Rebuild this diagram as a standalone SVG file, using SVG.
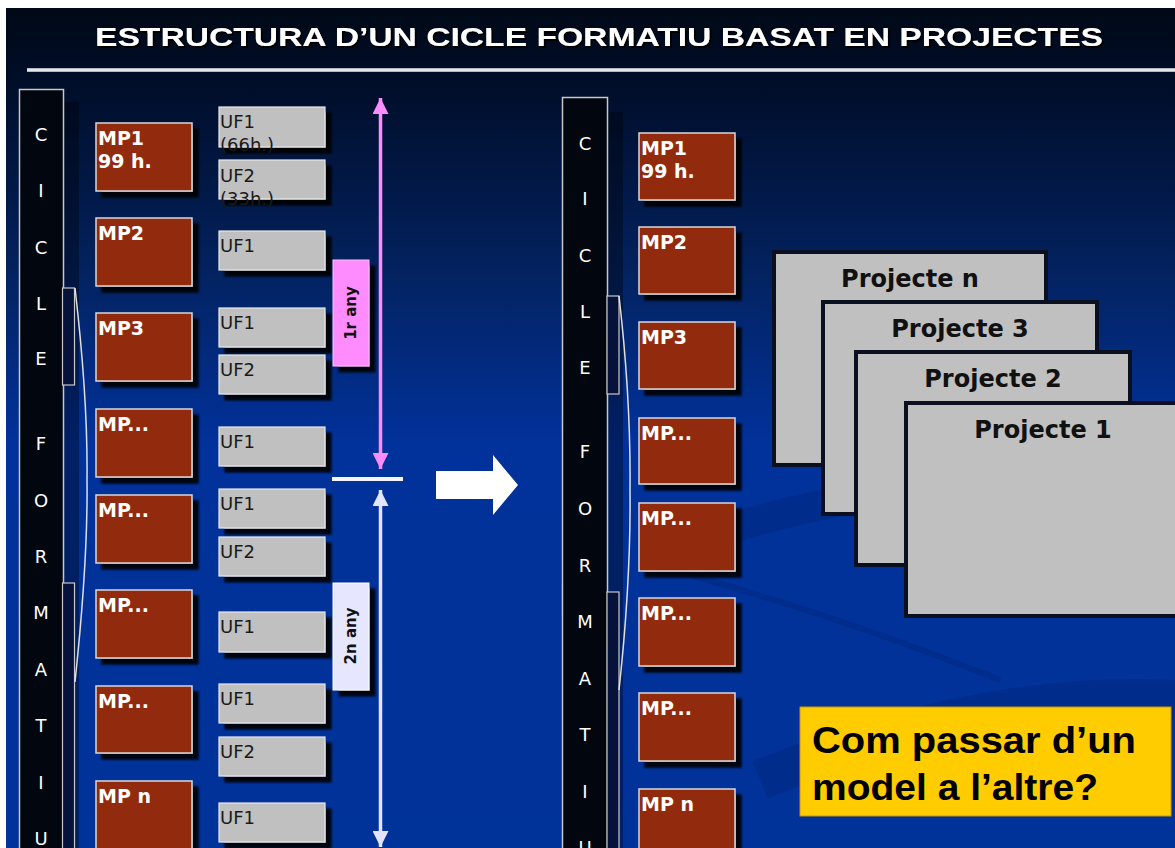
<svg xmlns="http://www.w3.org/2000/svg" width="1175" height="848" viewBox="0 0 1175 848">
<defs>
<linearGradient id="bg" x1="0" y1="0" x2="0" y2="1">
<stop offset="0" stop-color="#000814"/>
<stop offset="0.12" stop-color="#000f2e"/>
<stop offset="0.32" stop-color="#03225f"/>
<stop offset="0.52" stop-color="#01319a"/>
<stop offset="1" stop-color="#003399"/>
</linearGradient>
<linearGradient id="rule" x1="0" y1="0" x2="0" y2="1">
<stop offset="0" stop-color="#9aa0b0"/>
<stop offset="0.5" stop-color="#ffffff"/>
<stop offset="1" stop-color="#9aa0b0"/>
</linearGradient>
<filter id="sh" x="-10%" y="-10%" width="130%" height="130%">
<feDropShadow dx="6" dy="6" stdDeviation="0.8" flood-color="#000" flood-opacity="0.9"/>
</filter>
<filter id="tsh" x="-5%" y="-20%" width="110%" height="150%">
<feDropShadow dx="2" dy="2" stdDeviation="0.6" flood-color="#000" flood-opacity="1"/>
</filter>
<marker id="ahP" markerUnits="userSpaceOnUse" markerWidth="16" markerHeight="16" refX="16" refY="8" orient="auto-start-reverse">
<path d="M0,0 L16,8 L0,16 z" fill="#ff8cff"/>
</marker>
<marker id="ahL" markerUnits="userSpaceOnUse" markerWidth="16" markerHeight="16" refX="16" refY="8" orient="auto-start-reverse">
<path d="M0,0 L16,8 L0,16 z" fill="#e4e4ff"/>
</marker>
<style>
.bar{fill:#02060f;stroke:#c8c8c8;stroke-width:1.5}
.barsh{fill:#000;opacity:0.35}
.brace{fill:#06123a;stroke:#c8c8c8;stroke-width:1.2}
.bline{fill:none;stroke:#e0e0e0;stroke-width:1.5}
.let{font-family:"DejaVu Sans",sans-serif;font-size:18px;fill:#ffffff;text-anchor:middle}
.mp{fill:#922b11;stroke:#d8d8d8;stroke-width:1.5}
.mpt{font-family:"DejaVu Sans",sans-serif;font-weight:bold;font-size:19px;fill:#ffffff}
.uf{fill:#c0c0c0;stroke:#e8e8e8;stroke-width:1.2}
.uft{font-family:"DejaVu Sans",sans-serif;font-size:18px;fill:#1a1a1a}
.yr{font-family:"DejaVu Sans",sans-serif;font-weight:bold;font-size:15px;fill:#111;text-anchor:middle}
.pj{fill:#c0c0c0;stroke:#0b1020;stroke-width:4}
.pjt{font-family:"DejaVu Sans",sans-serif;font-weight:bold;font-size:24px;fill:#111;text-anchor:middle}
.q{font-family:"Liberation Sans",Arial,sans-serif;font-weight:bold;font-size:37px;fill:#000}
.sw{fill:none;stroke:#001650;stroke-opacity:0.18}
</style>
</defs>

<rect x="0" y="0" width="1175" height="848" fill="url(#bg)"/>
<path class="sw" d="M700,540 Q850,480 1175,470" stroke-width="30"/>
<path class="sw" d="M690,575 Q850,620 1000,680" stroke-width="6"/>
<path class="sw" d="M760,780 Q980,690 1175,700" stroke-width="40"/>
<rect x="0" y="0" width="1175" height="8" fill="#ffffff"/>
<rect x="0" y="0" width="6" height="848" fill="#ffffff"/>

<g id="title">
<text x="599" y="46" font-family="'Liberation Sans',Arial,sans-serif" font-weight="bold" font-size="26" fill="#ffffff" text-anchor="middle" textLength="1008" lengthAdjust="spacingAndGlyphs" filter="url(#tsh)">ESTRUCTURA D’UN CICLE FORMATIU BASAT EN PROJECTES</text>
<rect x="27" y="68" width="1148" height="4" fill="url(#rule)"/>
</g>

<!-- LEFT COLUMN -->
<g id="cicle-left">
<rect class="barsh" x="64" y="102" width="15" height="760"/>
<rect class="bar" x="19.5" y="89.5" width="44" height="770"/>
<rect class="brace" x="62.5" y="288" width="12" height="97"/>
<rect class="brace" x="62.5" y="583" width="12" height="280"/>
<path class="bline" d="M75,288 Q88,400 87,480 Q88,560 75,682"/>
<text class="let" x="41" y="141">C</text>
<text class="let" x="41" y="197">I</text>
<text class="let" x="41" y="254">C</text>
<text class="let" x="41" y="310">L</text>
<text class="let" x="41" y="365">E</text>
<text class="let" x="41" y="450">F</text>
<text class="let" x="41" y="507">O</text>
<text class="let" x="41" y="563">R</text>
<text class="let" x="41" y="619">M</text>
<text class="let" x="41" y="676">A</text>
<text class="let" x="41" y="732">T</text>
<text class="let" x="41" y="789">I</text>
<text class="let" x="41" y="845">U</text>
</g>

<g id="mp-left-1"><rect class="mp" x="96" y="123" width="96" height="68" filter="url(#sh)"/><text class="mpt" x="98" y="145">MP1</text><text class="mpt" x="98" y="168">99 h.</text></g>
<g id="mp-left-2"><rect class="mp" x="96" y="218" width="96" height="68" filter="url(#sh)"/><text class="mpt" x="98" y="240">MP2</text></g>
<g id="mp-left-3"><rect class="mp" x="96" y="313" width="96" height="68" filter="url(#sh)"/><text class="mpt" x="98" y="335">MP3</text></g>
<g id="mp-left-4"><rect class="mp" x="96" y="409" width="96" height="68" filter="url(#sh)"/><text class="mpt" x="98" y="431">MP...</text></g>
<g id="mp-left-5"><rect class="mp" x="96" y="495" width="96" height="68" filter="url(#sh)"/><text class="mpt" x="98" y="517">MP...</text></g>
<g id="mp-left-6"><rect class="mp" x="96" y="590" width="96" height="68" filter="url(#sh)"/><text class="mpt" x="98" y="612">MP...</text></g>
<g id="mp-left-7"><rect class="mp" x="96" y="686" width="96" height="67" filter="url(#sh)"/><text class="mpt" x="98" y="708">MP...</text></g>
<g id="mp-left-8"><rect class="mp" x="96" y="781" width="96" height="80" filter="url(#sh)"/><text class="mpt" x="98" y="803">MP n</text></g>

<g id="uf-1"><rect class="uf" x="219" y="107" width="106" height="40" filter="url(#sh)"/><text class="uft" x="220" y="128">UF1</text><text class="uft" x="220" y="151">(66h.)</text></g>
<g id="uf-2"><rect class="uf" x="219" y="160" width="106" height="39" filter="url(#sh)"/><text class="uft" x="220" y="182">UF2</text><text class="uft" x="220" y="205">(33h.)</text></g>
<g id="uf-3"><rect class="uf" x="219" y="231" width="106" height="39" filter="url(#sh)"/><text class="uft" x="220" y="252">UF1</text></g>
<g id="uf-4"><rect class="uf" x="219" y="308" width="106" height="39" filter="url(#sh)"/><text class="uft" x="220" y="329">UF1</text></g>
<g id="uf-5"><rect class="uf" x="219" y="355" width="106" height="39" filter="url(#sh)"/><text class="uft" x="220" y="376">UF2</text></g>
<g id="uf-6"><rect class="uf" x="219" y="427" width="106" height="39" filter="url(#sh)"/><text class="uft" x="220" y="448">UF1</text></g>
<g id="uf-7"><rect class="uf" x="219" y="489" width="106" height="39" filter="url(#sh)"/><text class="uft" x="220" y="510">UF1</text></g>
<g id="uf-8"><rect class="uf" x="219" y="537" width="106" height="39" filter="url(#sh)"/><text class="uft" x="220" y="558">UF2</text></g>
<g id="uf-9"><rect class="uf" x="219" y="612" width="106" height="40" filter="url(#sh)"/><text class="uft" x="220" y="633">UF1</text></g>
<g id="uf-10"><rect class="uf" x="219" y="684" width="106" height="39" filter="url(#sh)"/><text class="uft" x="220" y="705">UF1</text></g>
<g id="uf-11"><rect class="uf" x="219" y="737" width="106" height="39" filter="url(#sh)"/><text class="uft" x="220" y="758">UF2</text></g>
<g id="uf-12"><rect class="uf" x="219" y="803" width="106" height="39" filter="url(#sh)"/><text class="uft" x="220" y="824">UF1</text></g>

<g id="year-1"><rect x="333" y="260" width="36" height="106" fill="#ff8cff" stroke="#ffc0ff" stroke-width="1" filter="url(#sh)"/><text class="yr" transform="translate(356,313) rotate(-90)">1r any</text></g>
<g id="year-2"><rect x="333" y="583" width="36" height="107" fill="#e6e6ff" stroke="#ffffff" stroke-width="1" filter="url(#sh)"/><text class="yr" transform="translate(356,636) rotate(-90)">2n any</text></g>

<g id="connectors">
<line x1="380.5" y1="98" x2="380.5" y2="469" stroke="#ff8cff" stroke-width="3.5" marker-start="url(#ahP)" marker-end="url(#ahP)"/>
<rect x="332" y="477" width="71" height="4" fill="#f4f4ff"/>
<line x1="380.5" y1="490" x2="380.5" y2="847" stroke="#e4e4ff" stroke-width="3.5" marker-start="url(#ahL)" marker-end="url(#ahL)"/>
<polygon points="436,471 493,471 493,455 518,485 493,515 493,499 436,499" fill="#ffffff"/>
</g>

<!-- RIGHT COLUMN -->
<g id="cicle-right">
<rect class="barsh" x="608" y="112" width="15" height="750"/>
<rect class="bar" x="562.5" y="97.5" width="45" height="770"/>
<rect class="brace" x="607" y="296" width="12" height="98"/>
<rect class="brace" x="607" y="592" width="12" height="270"/>
<path class="bline" d="M619,296 Q631,400 630,490 Q631,580 619,690"/>
<text class="let" x="585" y="150">C</text>
<text class="let" x="585" y="205">I</text>
<text class="let" x="585" y="262">C</text>
<text class="let" x="585" y="318">L</text>
<text class="let" x="585" y="374">E</text>
<text class="let" x="585" y="458">F</text>
<text class="let" x="585" y="515">O</text>
<text class="let" x="585" y="572">R</text>
<text class="let" x="585" y="628">M</text>
<text class="let" x="585" y="685">A</text>
<text class="let" x="585" y="741">T</text>
<text class="let" x="585" y="798">I</text>
<text class="let" x="585" y="854">U</text>
</g>

<g id="mp-right-1"><rect class="mp" x="639" y="133" width="96" height="67" filter="url(#sh)"/><text class="mpt" x="641" y="155">MP1</text><text class="mpt" x="641" y="178">99 h.</text></g>
<g id="mp-right-2"><rect class="mp" x="639" y="227" width="96" height="67" filter="url(#sh)"/><text class="mpt" x="641" y="249">MP2</text></g>
<g id="mp-right-3"><rect class="mp" x="639" y="322" width="96" height="67" filter="url(#sh)"/><text class="mpt" x="641" y="344">MP3</text></g>
<g id="mp-right-4"><rect class="mp" x="639" y="418" width="96" height="66" filter="url(#sh)"/><text class="mpt" x="641" y="440">MP...</text></g>
<g id="mp-right-5"><rect class="mp" x="639" y="503" width="96" height="68" filter="url(#sh)"/><text class="mpt" x="641" y="525">MP...</text></g>
<g id="mp-right-6"><rect class="mp" x="639" y="598" width="96" height="68" filter="url(#sh)"/><text class="mpt" x="641" y="620">MP...</text></g>
<g id="mp-right-7"><rect class="mp" x="639" y="693" width="96" height="68" filter="url(#sh)"/><text class="mpt" x="641" y="715">MP...</text></g>
<g id="mp-right-8"><rect class="mp" x="639" y="789" width="96" height="75" filter="url(#sh)"/><text class="mpt" x="641" y="811">MP n</text></g>

<g id="projecte-n"><rect class="pj" x="774" y="252" width="272" height="213"/><text class="pjt" x="910" y="287">Projecte n</text></g>
<g id="projecte-3"><rect class="pj" x="823" y="302" width="274" height="212"/><text class="pjt" x="960" y="337">Projecte 3</text></g>
<g id="projecte-2"><rect class="pj" x="856" y="352" width="274" height="213"/><text class="pjt" x="993" y="387">Projecte 2</text></g>
<g id="projecte-1"><rect class="pj" x="906" y="403" width="276" height="213"/><text class="pjt" x="1043" y="438">Projecte 1</text></g>

<g id="question">
<rect x="800" y="707" width="371" height="109" fill="#ffcc00" stroke="#c89a00" stroke-width="1"/>
<text class="q" x="812" y="753" textLength="324" lengthAdjust="spacingAndGlyphs">Com passar d’un</text>
<text class="q" x="812" y="800" textLength="286" lengthAdjust="spacingAndGlyphs">model a l’altre?</text>
</g>
</svg>
